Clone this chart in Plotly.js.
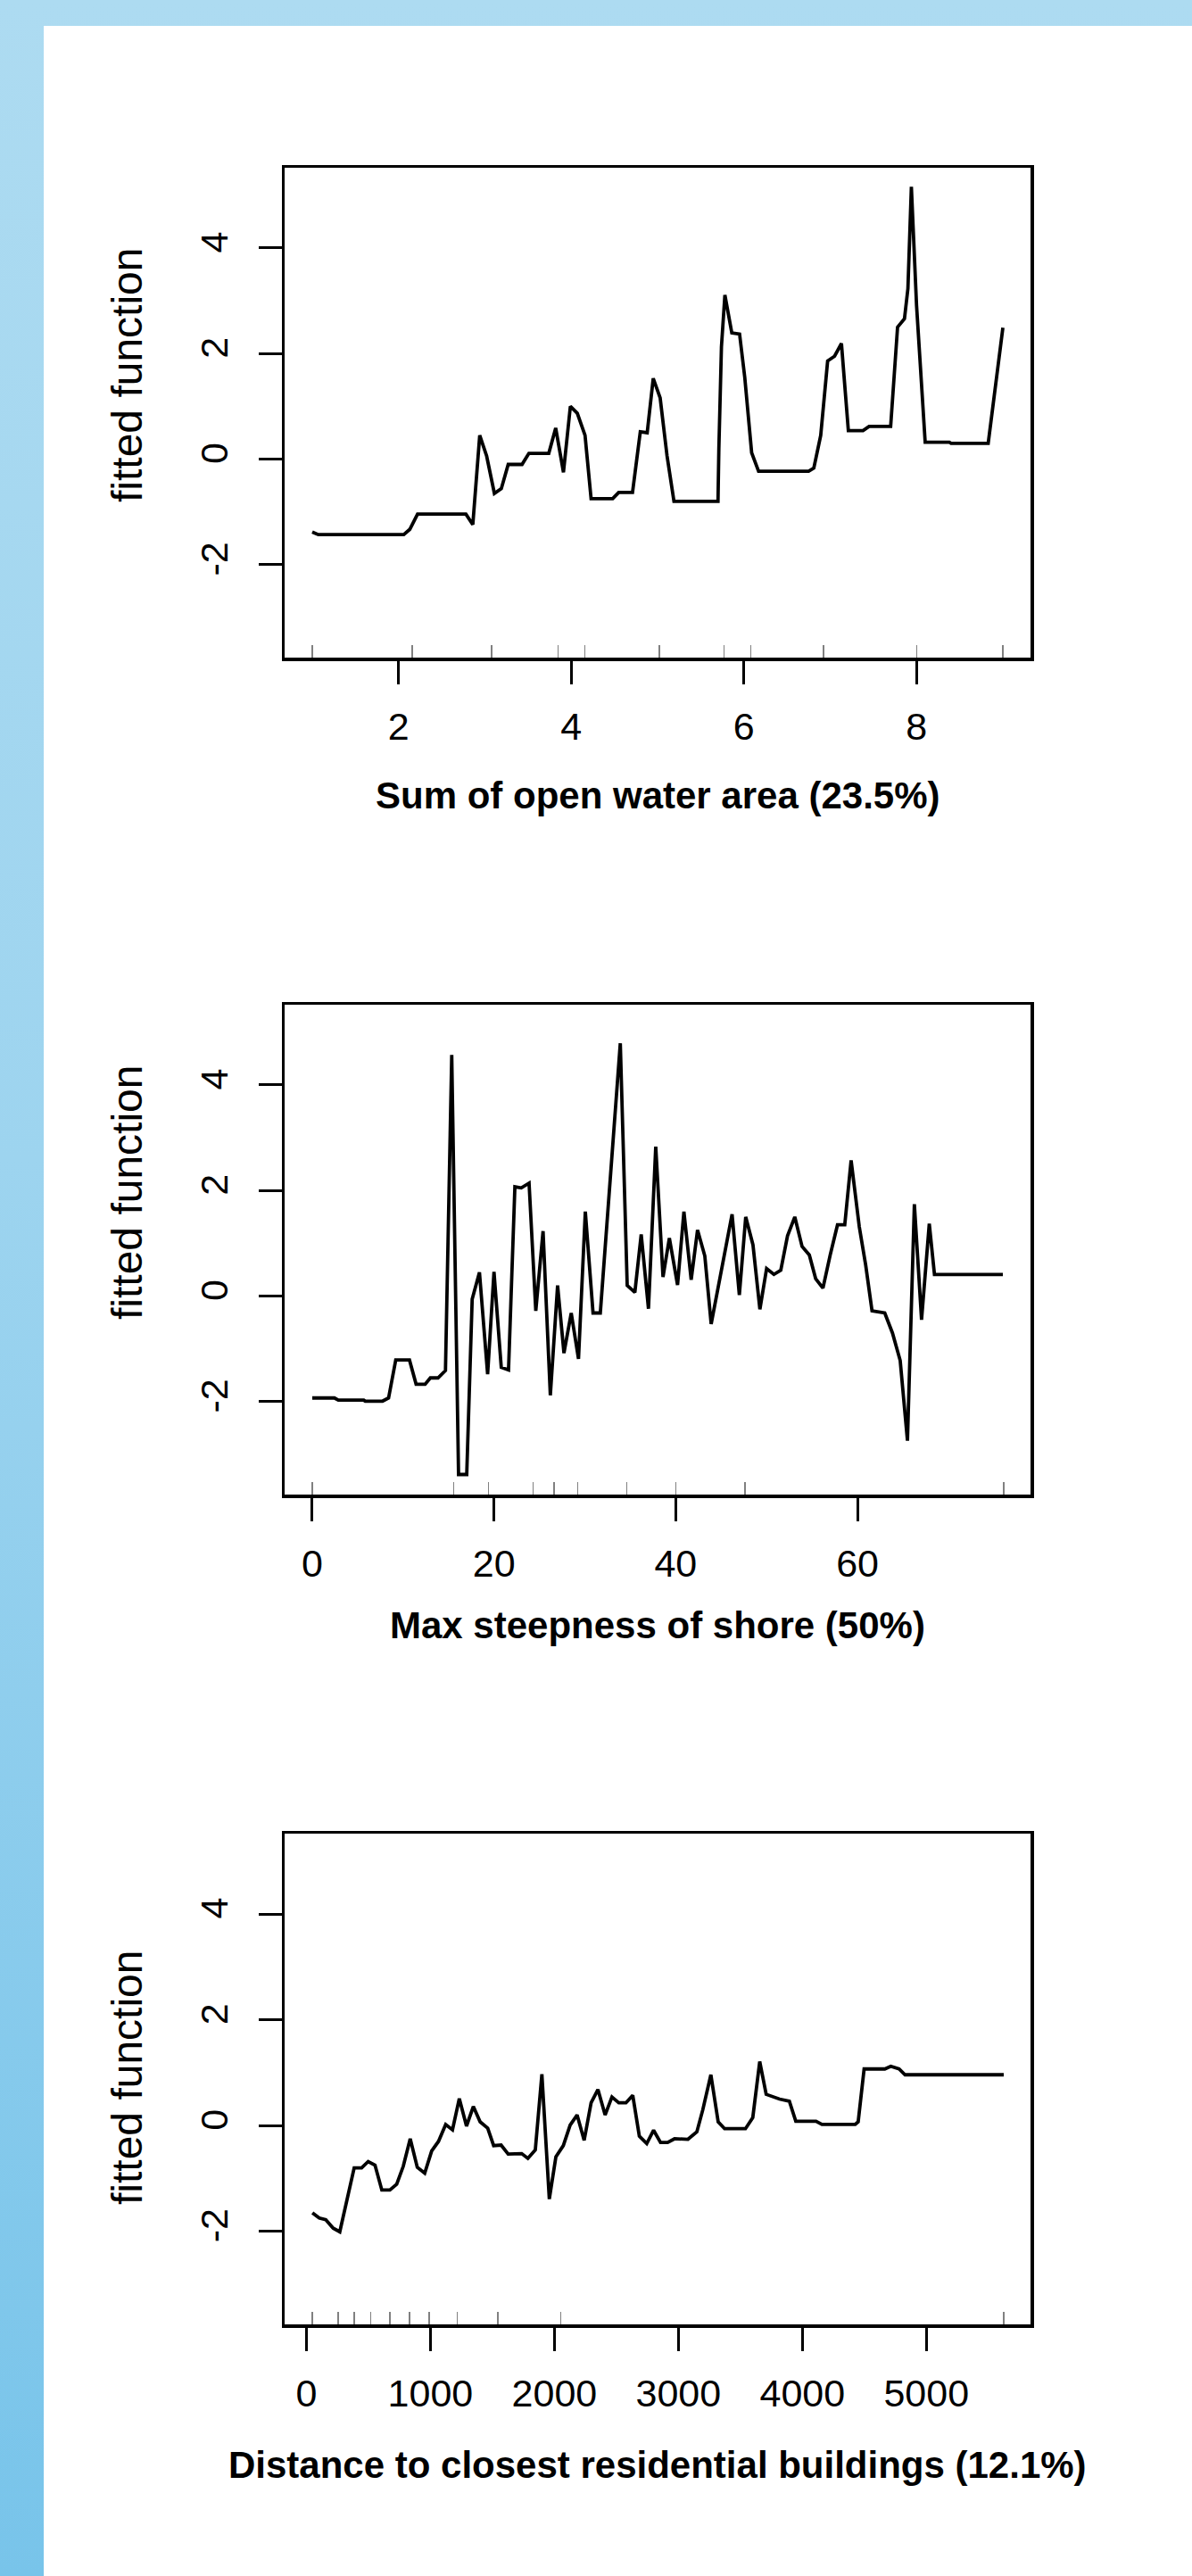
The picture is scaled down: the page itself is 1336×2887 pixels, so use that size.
<!DOCTYPE html>
<html><head><meta charset="utf-8">
<script src="https://cdn.plot.ly/plotly-3.0.1.min.js"></script>
<style>
html,body{margin:0;padding:0;}
body{width:1336px;height:2887px;background:linear-gradient(180deg,#ADDBF1 0%,#9DD4EF 45%,#78C4EA 100%);position:relative;overflow:hidden;}
#panel{position:absolute;left:49px;top:29px;right:0;bottom:0;background:#fff;}
#chart{position:absolute;left:0;top:0;width:1336px;height:2887px;}
</style></head>
<body><div id="panel"></div><div id="chart"></div>
<script>
// ---- data ----
const waterX = [1.0,1.07,2.06,2.13,2.22,2.78,2.86,2.94,3.02,3.11,3.19,3.27,3.43,3.51,3.74,3.82,3.91,3.99,4.07,4.16,4.23,4.48,4.55,4.71,4.80,4.88,4.95,5.03,5.11,5.19,5.70,5.71,5.74,5.78,5.86,5.95,6.01,6.09,6.17,6.75,6.81,6.89,6.97,7.05,7.13,7.21,7.38,7.45,7.70,7.78,7.86,7.90,7.94,8.00,8.10,8.38,8.40,8.83,9.00];
const waterY = [-1.38,-1.43,-1.43,-1.33,-1.04,-1.04,-1.24,0.45,0.06,-0.65,-0.56,-0.10,-0.10,0.11,0.11,0.59,-0.25,1.00,0.87,0.45,-0.75,-0.75,-0.63,-0.63,0.52,0.50,1.53,1.16,0.06,-0.80,-0.80,0.19,2.13,3.11,2.39,2.37,1.55,0.12,-0.23,-0.23,-0.17,0.45,1.86,1.95,2.19,0.54,0.54,0.62,0.62,2.50,2.66,3.23,5.16,2.91,0.32,0.32,0.30,0.30,2.49];
const waterRug = [1.0,2.16,3.08,3.85,4.16,5.02,5.77,6.08,6.92,8.0,9.0];

const steepX = [0,2.44,2.87,5.67,5.83,7.74,8.4,9.19,10.7,11.43,12.42,13.0,13.84,14.66,15.35,16.1,17.0,17.6,18.4,19.3,20.0,20.8,21.6,22.3,23.0,23.86,24.6,25.4,26.2,27.0,27.7,28.5,29.3,30.05,30.9,31.7,33.9,34.66,35.5,36.2,37.0,37.8,38.6,39.3,40.2,40.9,41.7,42.4,43.2,43.9,46.2,47.0,47.7,48.5,49.26,50.0,50.8,51.56,52.3,53.1,53.9,54.7,55.4,56.2,57.0,57.8,58.6,59.3,60.2,60.9,61.6,63.0,63.85,64.7,65.5,66.26,67.05,67.9,68.47,76.0];
const steepY = [-1.93,-1.93,-1.97,-1.97,-1.99,-1.99,-1.93,-1.21,-1.21,-1.67,-1.67,-1.55,-1.55,-1.41,4.57,-3.38,-3.38,-0.06,0.45,-1.48,0.46,-1.35,-1.40,2.07,2.05,2.14,-0.28,1.23,-1.88,0.2,-1.08,-0.32,-1.19,1.6,-0.32,-0.32,4.79,0.2,0.07,1.17,-0.24,2.83,0.36,1.10,0.21,1.6,0.31,1.25,0.76,-0.53,1.55,0.02,1.5,0.97,-0.25,0.52,0.41,0.49,1.14,1.5,0.94,0.78,0.33,0.15,0.78,1.35,1.35,2.57,1.31,0.59,-0.28,-0.32,-0.70,-1.22,-2.74,1.74,-0.45,1.37,0.41,0.41];
const steepRug = [0,15.55,19.4,24.3,26.6,29.2,34.6,40.0,47.6,76.1];

const distX = [48,103,156,216,269,385,445,498,553,608,673,728,781,837,894,954,1010,1065,1123,1178,1233,1291,1346,1401,1462,1510,1570,1627,1736,1786,1846,1899,1959,2012,2072,2127,2183,2240,2296,2351,2409,2464,2519,2577,2632,2685,2745,2800,2856,2913,2969,3077,3149,3197,3262,3321,3373,3541,3600,3656,3708,3816,3895,3947,4110,4158,4426,4450,4498,4665,4713,4780,4828,5624];
const distY = [-1.65,-1.75,-1.78,-1.94,-2.01,-0.80,-0.80,-0.68,-0.75,-1.22,-1.22,-1.11,-0.77,-0.25,-0.79,-0.90,-0.48,-0.30,0.02,-0.08,0.51,-0.01,0.36,0.07,-0.05,-0.38,-0.37,-0.54,-0.53,-0.62,-0.46,0.97,-1.39,-0.59,-0.38,0.01,0.2,-0.28,0.43,0.68,0.2,0.54,0.43,0.43,0.57,-0.2,-0.34,-0.09,-0.32,-0.32,-0.25,-0.26,-0.12,0.30,0.96,0.07,-0.06,-0.06,0.15,1.21,0.59,0.50,0.46,0.08,0.08,0.02,0.02,0.07,1.07,1.07,1.12,1.07,0.96,0.96];
const distRug = [48,254,386,519,673,831,988,1216,1545,2050,5624];

const waterTicks = [2,4,6,8];
const steepTicks = [0,20,40,60];
const distTicks = [0,1000,2000,3000,4000,5000];
const yTicks = [-2,0,2,4];
const xTitles = ['Sum of open water area (23.5%)','Max steepness of shore (50%)','Distance to closest residential buildings (12.1%)'];
const yTitle = 'fitted function';

// ---- layout ----
const W = 1336, H = 2887;
const FONT = "'Liberation Sans', Arial, Helvetica, sans-serif";
const left = 319, right = 1155;
const panels = [
  {x:waterX, y:waterY, rug:waterRug, ticks:waterTicks, range:[0.68,9.32], top:188, bottom:737, title:xTitles[0], titleY:892, ylabY:420},
  {x:steepX, y:steepY, rug:steepRug, ticks:steepTicks, range:[-3.04,79.04], top:1126, bottom:1675, title:xTitles[1], titleY:1821, ylabY:1336},
  {x:distX, y:distY, rug:distRug, ticks:distTicks, range:[-176,5840], top:2055, bottom:2605, title:xTitles[2], titleY:2762, ylabY:2328}
];
const traces = [], annotations = [];
const layout = {width:W, height:H, margin:{l:0,r:0,t:0,b:0}, paper_bgcolor:'rgba(0,0,0,0)', plot_bgcolor:'rgba(0,0,0,0)', showlegend:false, font:{family:FONT, color:'#000'}};
panels.forEach((p,i)=>{
  const n = i+1, sfx = n===1 ? '' : String(n);
  const xr = 'x'+sfx, yr = 'y'+sfx;
  const rr = 'x'+(n+3);
  layout['xaxis'+sfx] = {domain:[left/W,right/W], anchor:yr, range:p.range, tickmode:'array', tickvals:p.ticks, ticktext:p.ticks.map(String),
    ticks:'outside', ticklen:26, tickwidth:3, tickcolor:'#000', showline:true, linewidth:3.5, linecolor:'#000', mirror:true,
    showgrid:false, zeroline:false, ticklabelstandoff:11, tickfont:{size:43, family:FONT, color:'#000'}};
  layout['yaxis'+sfx] = {domain:[1-p.bottom/H, 1-p.top/H], anchor:xr, range:[-3.76,5.52], tickmode:'array', tickvals:yTicks, ticktext:yTicks.map(String), tickangle:-90,
    ticks:'outside', ticklen:26, tickwidth:3, tickcolor:'#000', showline:true, linewidth:3.5, linecolor:'#000', mirror:true,
    showgrid:false, zeroline:false, ticklabelstandoff:17, tickfont:{size:43, family:FONT, color:'#000'}};
  layout['xaxis'+(n+3)] = {overlaying:xr, anchor:yr, side:'bottom', range:p.range, tickmode:'array', tickvals:p.rug, ticks:'inside', ticklen:14, tickwidth:1.5,
    tickcolor:'#808080', showticklabels:false, showline:false, showgrid:false, zeroline:false};
  traces.push({x:p.x, y:p.y, xaxis:xr, yaxis:yr, type:'scatter', mode:'lines', line:{color:'#000', width:3.8}, hoverinfo:'skip'});
  traces.push({x:[], y:[], xaxis:rr, yaxis:yr, type:'scatter', mode:'lines', hoverinfo:'skip'});
  annotations.push({xref:'paper', yref:'paper', x:(left+right)/2/W, y:1-p.titleY/H, xanchor:'center', yanchor:'middle', showarrow:false,
    text:'<b>'+p.title+'</b>', font:{size:42, family:FONT, color:'#000'}});
  annotations.push({xref:'paper', yref:'paper', x:142/W, y:1-p.ylabY/H, xanchor:'center', yanchor:'middle', showarrow:false, textangle:-90,
    text:yTitle, font:{size:48, family:FONT, color:'#000'}});
});
layout.annotations = annotations;
Plotly.newPlot('chart', traces, layout, {displayModeBar:false, staticPlot:true});
</script>
</body></html>
